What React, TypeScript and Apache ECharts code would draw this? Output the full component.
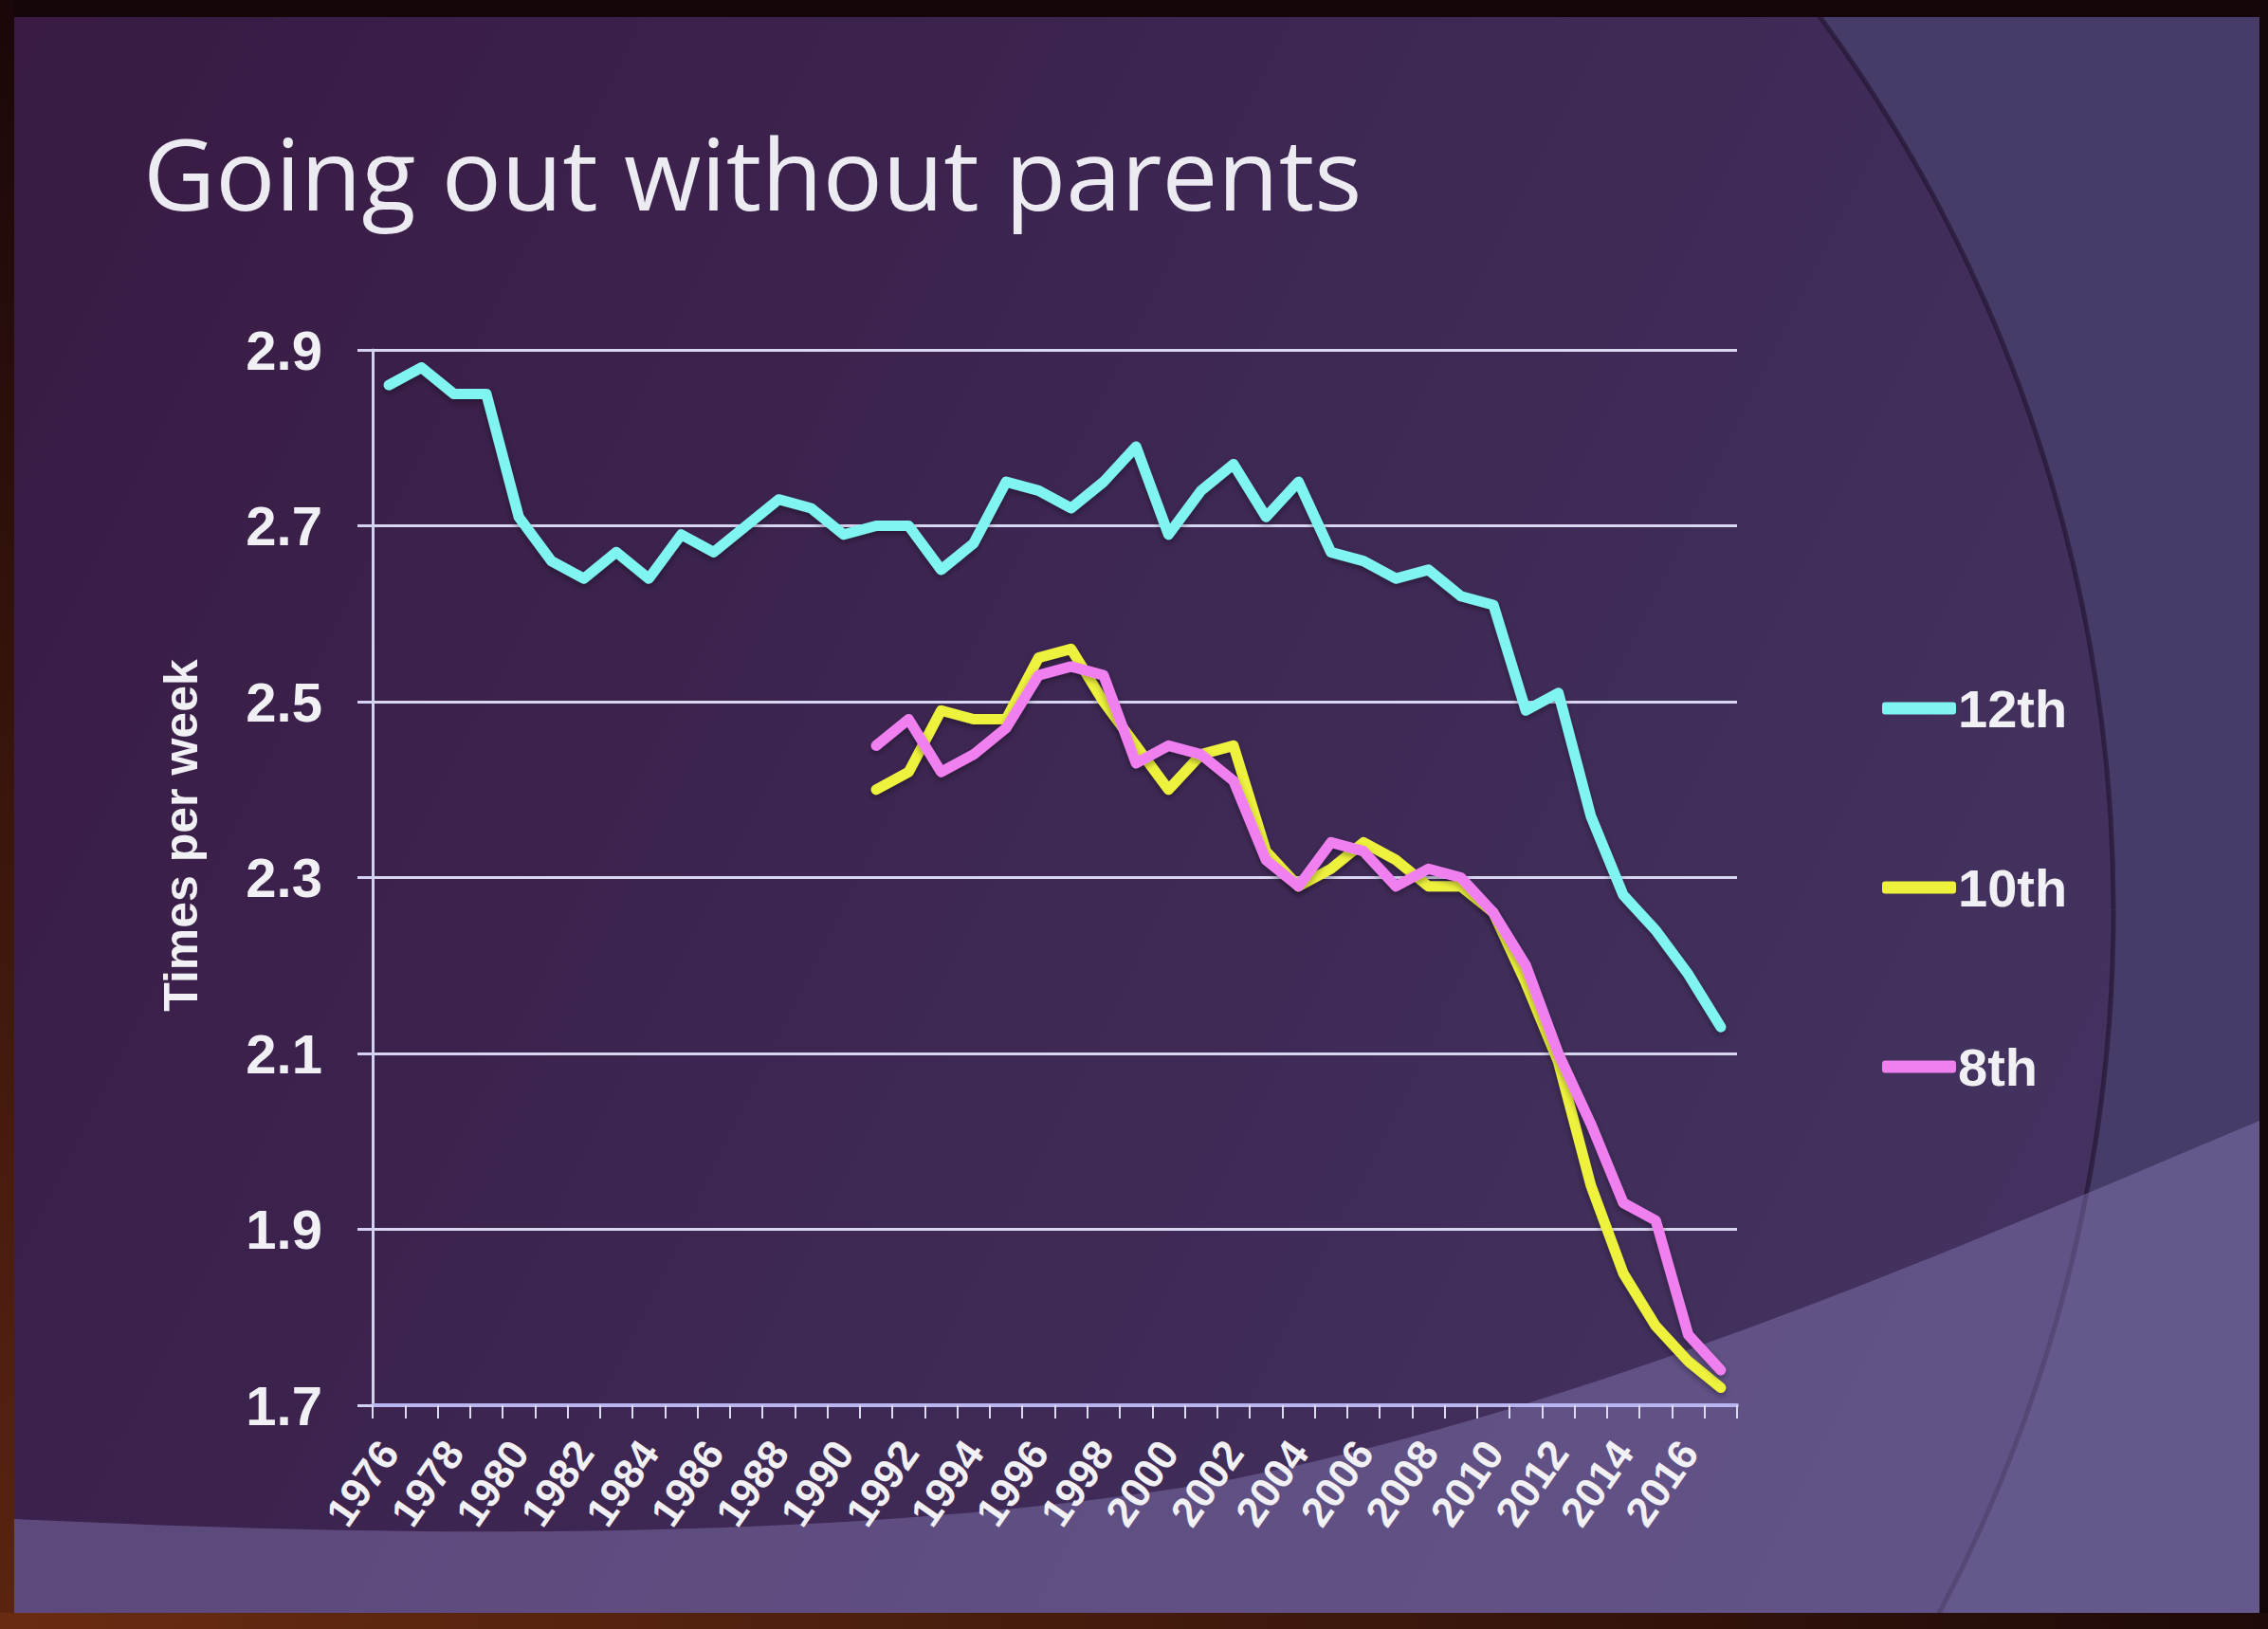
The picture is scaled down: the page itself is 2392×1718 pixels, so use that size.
import React, { useEffect, useRef } from "react";
import * as echarts from "echarts";

const years = [
  "1976", "1977", "1978", "1979", "1980", "1981", "1982", "1983", "1984", "1985",
  "1986", "1987", "1988", "1989", "1990", "1991", "1992", "1993", "1994", "1995",
  "1996", "1997", "1998", "1999", "2000", "2001", "2002", "2003", "2004", "2005",
  "2006", "2007", "2008", "2009", "2010", "2011", "2012", "2013", "2014", "2015",
  "2016", "2017",
];

const grade12 = [
  2.86, 2.88, 2.85, 2.85, 2.71, 2.66, 2.64, 2.67, 2.64, 2.69,
  2.67, 2.70, 2.73, 2.72, 2.69, 2.70, 2.70, 2.65, 2.68, 2.75,
  2.74, 2.72, 2.75, 2.79, 2.69, 2.74, 2.77, 2.71, 2.75, 2.67,
  2.66, 2.64, 2.65, 2.62, 2.61, 2.49, 2.51, 2.37, 2.28, 2.24,
  2.19, 2.13,
];

const grade10 = [
  null, null, null, null, null, null, null, null, null, null,
  null, null, null, null, null, 2.40, 2.42, 2.49, 2.48, 2.48,
  2.55, 2.56, 2.50, 2.45, 2.40, 2.44, 2.45, 2.33, 2.29, 2.31,
  2.34, 2.32, 2.29, 2.29, 2.26, 2.18, 2.09, 1.95, 1.85, 1.79,
  1.75, 1.72,
];

const grade8 = [
  null, null, null, null, null, null, null, null, null, null,
  null, null, null, null, null, 2.45, 2.48, 2.42, 2.44, 2.47,
  2.53, 2.54, 2.53, 2.43, 2.45, 2.44, 2.41, 2.32, 2.29, 2.34,
  2.33, 2.29, 2.31, 2.30, 2.26, 2.20, 2.10, 2.02, 1.93, 1.91,
  1.78, 1.74,
];

const seriesNames = ["12th", "10th", "8th"];
const seriesColors = ["#80f4f0", "#eef23c", "#f07ff0"];
const yMin = 1.7;
const yMax = 2.9;
const yStep = 0.2;

const titleText = "Going out without parents";
const yAxisName = "Times per week";

echarts.graphic.registerShape(
  "bottomBand",
  echarts.graphic.extendPath(
    "M15,1602 C400,1620 900,1630 1300,1560 C1700,1480 2100,1300 2383,1182 L2383,1701 L15,1701 Z",
    {}
  )
);

const FONT = "'Liberation Sans', Arial, Helvetica, sans-serif";
const TEXT = "#f1f0f4";

export default function App() {
  const ref = useRef<HTMLDivElement>(null);

  useEffect(() => {
    document.body.style.margin = "0";
    if (!ref.current) return;
    const chart = echarts.init(ref.current, null, { renderer: "svg" });
    const seriesData = [grade12, grade10, grade8];

    chart.setOption({
      animation: false,
      backgroundColor: "#140608",
      title: {
        text: titleText,
        left: 146,
        top: 124,
        textStyle: {
          color: "#ecebf2",
          fontSize: 105,
          fontWeight: "normal",
          fontFamily: "'Open Sans', sans-serif",
        },
      },
      graphic: {
        elements: [
          {
            type: "rect",
            z: -30,
            silent: true,
            shape: { x: 15, y: 18, width: 2368, height: 1683 },
            style: { fill: "#473b68" },
          },
          {
            type: "circle",
            z: -29,
            silent: true,
            shape: { cx: 641, cy: 960, r: 1588 },
            style: {
              fill: {
                type: "linear",
                x: 0,
                y: 0,
                x2: 2200,
                y2: 1100,
                global: true,
                colorStops: [
                  { offset: 0, color: "#381a42" },
                  { offset: 0.5, color: "#3d2652" },
                  { offset: 1, color: "#43325f" },
                ],
              },
              stroke: "rgba(28,14,40,0.55)",
              lineWidth: 5,
            },
          },
          {
            type: "bottomBand",
            z: -28,
            silent: true,
            style: { fill: "rgba(140,128,190,0.42)" },
          },
          {
            type: "rect",
            z: -27,
            silent: true,
            shape: { x: 0, y: 0, width: 2392, height: 18 },
            style: { fill: "#140608" },
          },
          {
            type: "rect",
            z: -27,
            silent: true,
            shape: { x: 0, y: 0, width: 15, height: 1718 },
            style: {
              fill: {
                type: "linear",
                x: 0,
                y: 0,
                x2: 0,
                y2: 1,
                colorStops: [
                  { offset: 0, color: "#1a0709" },
                  { offset: 1, color: "#5a2410" },
                ],
              },
            },
          },
          {
            type: "rect",
            z: -27,
            silent: true,
            shape: { x: 2383, y: 0, width: 9, height: 1718 },
            style: { fill: "#120608" },
          },
          {
            type: "rect",
            z: -27,
            silent: true,
            shape: { x: 0, y: 1701, width: 2392, height: 17 },
            style: {
              fill: {
                type: "linear",
                x: 0,
                y: 0,
                x2: 1,
                y2: 0,
                colorStops: [
                  { offset: 0, color: "#6a2c12" },
                  { offset: 1, color: "#1e0a08" },
                ],
              },
            },
          },
          {
            type: "text",
            z: 10,
            silent: true,
            x: 191,
            y: 881,
            rotation: Math.PI / 2,
            style: {
              text: yAxisName,
              fill: TEXT,
              fontSize: 50,
              fontWeight: "bold",
              fontFamily: FONT,
              align: "center",
              verticalAlign: "middle",
            },
          },
        ],
      },
      legend: {
        orient: "vertical",
        left: 1980,
        top: 712,
        itemWidth: 78,
        itemHeight: 13,
        itemGap: 129,
        icon: "roundRect",
        data: seriesNames,
        textStyle: {
          color: TEXT,
          fontSize: 56,
          fontWeight: "bold",
          fontFamily: FONT,
          lineHeight: 60,
          padding: [0, 0, 0, -3],
        },
      },
      grid: {
        left: 393,
        right: 560,
        top: 369,
        bottom: 236,
        containLabel: false,
      },
      xAxis: {
        type: "category",
        data: years,
        boundaryGap: true,
        axisLine: { show: true, lineStyle: { color: "#b8b5f0", width: 4 } },
        axisTick: {
          show: true,
          interval: 0,
          length: 14,
          lineStyle: { color: "#dcdaf0", width: 2 },
        },
        axisLabel: {
          interval: 1,
          rotate: 55,
          margin: 42,
          color: TEXT,
          fontSize: 44,
          fontWeight: "bold",
          fontFamily: FONT,
        },
        splitLine: { show: false },
      },
      yAxis: {
        type: "value",
        min: yMin,
        max: yMax,
        interval: yStep,
        axisLine: { show: true, lineStyle: { color: "#d4d2f0", width: 3 } },
        axisTick: { show: true, length: 16, lineStyle: { color: "#d4d2f0", width: 3 } },
        axisLabel: {
          margin: 53,
          color: TEXT,
          fontSize: 58,
          fontWeight: "bold",
          fontFamily: FONT,
          formatter: (v: number) => v.toFixed(1),
        },
        splitLine: { show: true, lineStyle: { color: "#d8d6f0", width: 3 } },
      },
      series: seriesNames.map((name, i) => ({
        name,
        type: "line",
        data: seriesData[i],
        symbol: "none",
        showSymbol: false,
        connectNulls: false,
        z: 3 + i,
        itemStyle: { color: seriesColors[i] },
        lineStyle: {
          color: seriesColors[i],
          width: 11,
          cap: "round",
          join: "round",
          shadowColor: "rgba(0,0,0,0.35)",
          shadowBlur: 6,
          shadowOffsetY: 3,
        },
      })),
    });

    return () => chart.dispose();
  }, []);

  return (
    <div
      ref={ref}
      style={{ position: "fixed", left: 0, top: 0, width: 2392, height: 1718 }}
    />
  );
}
